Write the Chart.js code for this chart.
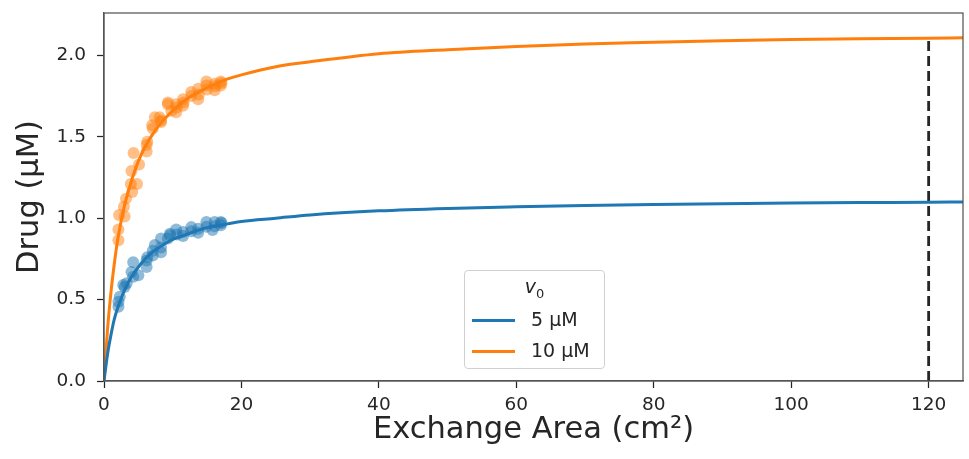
<!DOCTYPE html>
<html lang="en">
<head>
    <meta charset="UTF-8">
    <title>Drug vs Exchange Area</title>
    <script src="https://cdn.jsdelivr.net/npm/chart.js"></script>
    <style>
        body {
            margin: 0;
            background: white;
            font-family: "DejaVu Sans", sans-serif;
        }
        .wrap {
            position: relative;
            width: 969px;
            height: 459px;
        }
        .legend-box {
            position: absolute;
            left: 464px;
            top: 270px;
            width: 141px;
            height: 99px;
            box-sizing: border-box;
            border: 1px solid #d0d0d0;
            border-radius: 4px;
            background: rgba(255,255,255,0.85);
            color: #262626;
            font-size: 19px;
        }
        .legend-title {
            position: absolute;
            left: 0;
            right: 0;
            top: 4px;
            text-align: center;
        }
        .legend-row {
            position: absolute;
            left: 7px;
            height: 24px;
            line-height: 24px;
            white-space: nowrap;
        }
        .legend-row .swatch {
            display: inline-block;
            width: 43px;
            height: 3px;
            vertical-align: middle;
            margin-right: 16px;
        }
    </style>
</head>
<body>
    <div class="wrap">
        <canvas id="chart" width="969" height="459"></canvas>
        <div class="legend-box" id="legend"></div>
    </div>

    <script>
        // fitted curves
        const areaGrid = [0, 0.5, 1, 1.5, 2, 3, 4, 5, 6, 7, 8, 10, 12, 14, 16, 18, 20, 25, 30, 40, 50, 60, 70, 80, 90, 100, 110, 120, 125];
        const fit5 = [0, 0.16, 0.28, 0.38, 0.45, 0.56, 0.64, 0.70, 0.75, 0.79, 0.82, 0.87, 0.90, 0.93, 0.95, 0.965, 0.98, 1.00, 1.02, 1.045, 1.06, 1.07, 1.078, 1.084, 1.089, 1.093, 1.096, 1.098, 1.10];
        const fit10 = [0, 0.31, 0.54, 0.72, 0.87, 1.08, 1.23, 1.35, 1.44, 1.51, 1.57, 1.66, 1.73, 1.78, 1.82, 1.855, 1.88, 1.93, 1.96, 2.01, 2.035, 2.055, 2.07, 2.08, 2.09, 2.097, 2.102, 2.105, 2.108];

        // measured points
        const meas5X = [2.1, 2.1, 2.3, 2.8, 3.0, 3.3, 4.0, 4.25, 4.25, 5.0, 6.2, 6.2, 6.3, 7.1, 7.1, 7.4, 8.3, 8.3, 8.3, 9.3, 9.6, 9.6, 10.5, 10.6, 11.5, 11.5, 12.7, 12.7, 13.7, 13.7, 14.9, 14.9, 15.8, 16.1, 16.1, 17.0, 17.0, 17.1];
        const meas5Y = [0.456, 0.487, 0.517, 0.59, 0.578, 0.60, 0.67, 0.64, 0.73, 0.65, 0.70, 0.74, 0.76, 0.77, 0.80, 0.835, 0.82, 0.79, 0.875, 0.875, 0.905, 0.895, 0.93, 0.90, 0.915, 0.89, 0.945, 0.92, 0.935, 0.91, 0.977, 0.947, 0.927, 0.977, 0.95, 0.977, 0.957, 0.97];
        const meas10X = [2.1, 2.1, 2.2, 2.9, 3.0, 3.2, 3.9, 4.0, 4.1, 4.3, 4.8, 5.1, 6.2, 6.3, 6.2, 7.0, 7.1, 7.4, 8.1, 8.3, 8.3, 9.3, 9.3, 9.8, 10.5, 10.5, 10.6, 11.5, 11.5, 11.6, 12.7, 12.7, 13.7, 13.7, 13.8, 14.9, 14.9, 15.0, 16.1, 16.1, 16.2, 17.0, 17.0, 17.1];
        const meas10Y = [0.865, 0.93, 1.02, 1.07, 1.01, 1.12, 1.21, 1.29, 1.16, 1.40, 1.21, 1.33, 1.41, 1.47, 1.45, 1.57, 1.55, 1.62, 1.62, 1.60, 1.59, 1.70, 1.71, 1.66, 1.70, 1.65, 1.68, 1.73, 1.69, 1.71, 1.775, 1.75, 1.795, 1.73, 1.76, 1.84, 1.815, 1.79, 1.825, 1.785, 1.81, 1.84, 1.815, 1.83];

        // dashed marker at the chosen area
        const markerX = [120, 120];
        const markerY = [0, 2.105];

        // tick labels
        const xTicks = [0, 20, 40, 60, 80, 100, 120];
        const yTicks = [0, 0.5, 1.0, 1.5, 2.0];

        const seriesLabels = ['5 \u03bcM', '10 \u03bcM'];
        const blue = '#1f77b4';
        const orange = '#ff7f0e';
        const ink = '#262626';

        const pairs = (xs, ys) => xs.map((x, i) => ({ x: x, y: ys[i] }));

        // box around the plot area (top/right spines)
        const frame = {
            id: 'frame',
            afterDraw(chart) {
                const a = chart.chartArea;
                const ctx = chart.ctx;
                ctx.save();
                ctx.strokeStyle = '#555';
                ctx.lineWidth = 1.25;
                ctx.strokeRect(a.left, a.top, a.right - a.left, a.bottom - a.top);
                ctx.restore();
            }
        };

        const tickFont = { family: 'DejaVu Sans', size: 18.5 };
        const titleFont = { family: 'DejaVu Sans', size: 30.5 };

        new Chart(document.getElementById('chart'), {
            type: 'scatter',
            data: {
                datasets: [
                    {
                        label: seriesLabels[0],
                        data: pairs(areaGrid, fit5),
                        showLine: true,
                        cubicInterpolationMode: 'monotone',
                        borderColor: blue,
                        borderWidth: 3,
                        pointRadius: 0,
                        order: 0
                    },
                    {
                        label: seriesLabels[1],
                        data: pairs(areaGrid, fit10),
                        showLine: true,
                        cubicInterpolationMode: 'monotone',
                        borderColor: orange,
                        borderWidth: 3,
                        pointRadius: 0,
                        order: 0
                    },
                    {
                        label: 'meas5',
                        data: pairs(meas5X, meas5Y),
                        backgroundColor: 'rgba(31,119,180,0.5)',
                        borderWidth: 0,
                        pointRadius: 6,
                        order: 2
                    },
                    {
                        label: 'meas10',
                        data: pairs(meas10X, meas10Y),
                        backgroundColor: 'rgba(255,127,14,0.5)',
                        borderWidth: 0,
                        pointRadius: 6,
                        order: 2
                    },
                    {
                        label: 'marker',
                        data: pairs(markerX, markerY),
                        showLine: true,
                        borderColor: ink,
                        borderWidth: 2.8,
                        borderDash: [10, 5],
                        pointRadius: 0,
                        order: 1
                    }
                ]
            },
            options: {
                responsive: false,
                animation: false,
                layout: { padding: { top: 13, right: 5, left: 0, bottom: 0 } },
                plugins: {
                    legend: { display: false },
                    tooltip: { enabled: false }
                },
                scales: {
                    x: {
                        type: 'linear',
                        min: 0,
                        max: 125,
                        afterBuildTicks: (s) => { s.ticks = xTicks.map(v => ({ value: v })); },
                        afterFit: (s) => { s.height = 78; s.paddingRight = 0; },
                        ticks: { color: ink, font: tickFont, padding: 6, maxRotation: 0 },
                        grid: { drawOnChartArea: false, drawTicks: true, tickLength: 7, tickColor: ink, tickWidth: 1.25 },
                        border: { color: '#555', width: 1.25 },
                        title: { display: true, text: 'Exchange Area (cm\u00b2)', color: ink, font: titleFont, padding: { top: 0, bottom: 11 } }
                    },
                    y: {
                        min: 0,
                        max: 2.26,
                        afterBuildTicks: (s) => { s.ticks = yTicks.map(v => ({ value: v })); },
                        afterFit: (s) => { s.width = 104; s.paddingTop = 0; s.paddingBottom = 0; },
                        ticks: {
                            color: ink,
                            font: tickFont,
                            padding: 11,
                            callback: (v) => v.toFixed(1)
                        },
                        grid: { drawOnChartArea: false, drawTicks: true, tickLength: 7, tickColor: ink, tickWidth: 1.25 },
                        border: { color: '#555', width: 1.25 },
                        title: { display: true, text: 'Drug (\u03bcM)', color: ink, font: titleFont, padding: { top: 12, bottom: 0 } }
                    }
                }
            },
            plugins: [frame]
        });

        // legend drawn as html text, placed where the figure has it
        const legend = document.getElementById('legend');
        legend.innerHTML =
            '<div class="legend-title"><i>v</i><sub style="font-size:13px">0</sub></div>' +
            '<div class="legend-row" style="top:36px"><span class="swatch" style="background:' + blue + '"></span>' + seriesLabels[0] + '</div>' +
            '<div class="legend-row" style="top:67px"><span class="swatch" style="background:' + orange + '"></span>' + seriesLabels[1] + '</div>';
    </script>
</body>
</html>
